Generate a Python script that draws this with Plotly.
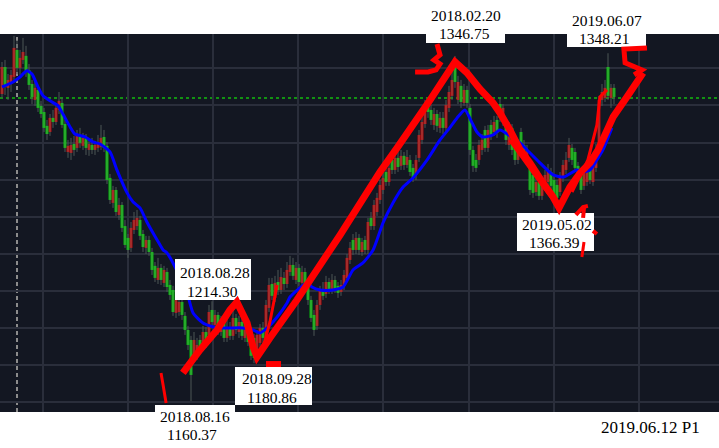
import plotly.graph_objects as go

# ---------------- data ----------------
opens = [1326.2,1340.8,1329.5,1331.6,1335.4,1350.0,1340.3,1344.6,1346.8,1339.2,
 1331.6,1323.0,1328.4,1319.8,1316.5,1309.0,1305.7,1313.3,1311.1,1317.6,
 1321.4,1310.0,1294.9,1294.4,1299.2,1297.1,1303.6,1298.2,1302.5,1296.0,
 1298.7,1296.0,1297.1,1297.6,1303.0,1298.2,1280.9,1267.4,1274.4,1260.9,
 1266.3,1254.9,1248.5,1243.1,1252.8,1254.9,1258.2,1250.6,1243.1,1247.4,
 1240.9,1233.4,1225.8,1232.3,1224.2,1230.1,1223.1,1220.4,1208.0,1208.5,
 1213.9,1206.4,1198.8,1193.4,1184.2,1184.8,1193.4,1189.6,1197.7,1196.1,
 1209.6,1201.5,1206.9,1197.7,1203.1,1194.5,1200.4,1195.6,1205.3,1197.7,
 1203.1,1194.5,1201.0,1192.3,1194.5,1184.8,1191.8,1199.9,1193.4,1210.7,
 1223.6,1216.1,1224.7,1220.4,1226.9,1223.6,1230.1,1233.9,1225.8,1232.3,
 1224.2,1230.1,1222.6,1215.0,1206.9,1201.0,1212.3,1220.4,1218.2,1224.7,
 1220.4,1225.8,1222.6,1219.3,1222.6,1226.9,1236.6,1247.4,1242.0,1248.5,
 1240.9,1247.4,1242.0,1259.3,1254.9,1262.5,1269.0,1274.4,1284.1,1278.7,
 1290.6,1285.2,1291.7,1287.4,1292.8,1287.9,1290.6,1286.3,1282.5,1291.7,
 1301.4,1310.0,1320.8,1317.6,1309.5,1315.4,1307.9,1313.3,1307.9,1318.7,
 1325.2,1340.8,1323.0,1330.6,1321.4,1328.4,1318.7,1296.0,1290.6,1290.6,
 1296.0,1306.8,1297.1,1309.5,1305.7,1312.2,1320.8,1311.1,1311.1,1298.7,
 1307.9,1297.1,1290.6,1305.7,1298.7,1290.6,1286.3,1282.5,1273.3,1278.7,
 1271.2,1276.0,1278.7,1284.1,1279.8,1277.1,1273.3,1280.9,1285.2,1291.7,
 1297.1,1294.9,1287.4,1283.0,1276.6,1278.7,1285.2,1278.7,1286.3,1293.3,
 1323.0,1324.1,1340.8,1324.1,1329.5]

closes = [1340.8,1330.0,1333.8,1336.5,1351.1,1340.3,1345.7,1348.9,1338.7,1331.1,
 1324.6,1329.5,1318.7,1315.4,1307.9,1304.6,1313.3,1311.1,1318.7,1322.5,
 1309.5,1297.1,1298.2,1298.7,1296.0,1303.6,1299.8,1302.5,1297.1,1299.2,
 1296.0,1298.7,1300.3,1302.5,1297.1,1279.8,1269.0,1274.4,1262.5,1266.3,
 1253.9,1244.7,1242.0,1253.9,1258.2,1259.3,1249.6,1243.6,1247.4,1240.9,
 1231.2,1226.9,1232.3,1225.8,1231.2,1222.0,1217.7,1208.5,1215.0,1213.9,
 1206.9,1198.8,1190.7,1174.5,1193.4,1190.7,1189.1,1197.7,1190.7,1208.5,
 1203.1,1206.9,1198.8,1203.1,1194.5,1199.9,1195.6,1205.3,1198.8,1203.1,
 1195.6,1201.0,1192.3,1184.8,1183.7,1196.1,1199.9,1194.5,1212.3,1223.1,
 1217.2,1224.2,1220.4,1227.4,1223.6,1231.2,1233.9,1228.0,1232.3,1224.7,
 1230.1,1221.5,1215.0,1205.3,1198.8,1212.3,1220.4,1217.2,1224.7,1220.4,
 1225.8,1221.0,1218.8,1223.1,1228.5,1237.7,1243.1,1242.0,1248.5,1242.0,
 1246.3,1242.0,1257.1,1254.9,1266.3,1270.1,1277.1,1280.9,1278.7,1286.3,
 1285.2,1291.7,1286.8,1292.8,1287.9,1292.2,1284.1,1280.9,1290.6,1304.1,
 1311.1,1318.7,1316.5,1312.2,1315.4,1309.0,1313.3,1307.9,1320.3,1327.3,
 1333.8,1332.7,1332.7,1321.9,1328.4,1321.4,1296.0,1287.4,1286.3,1298.7,
 1301.4,1297.1,1306.8,1304.1,1311.1,1305.2,1313.3,1318.7,1301.4,1307.9,
 1296.0,1290.6,1296.0,1296.0,1293.3,1296.0,1274.4,1272.8,1278.7,1271.2,
 1277.1,1282.5,1285.2,1276.6,1271.2,1270.1,1282.0,1287.9,1290.6,1298.7,
 1290.6,1286.3,1282.0,1274.4,1284.1,1285.2,1279.8,1289.5,1296.0,1323.0,
 1327.3,1329.5,1325.2,1329.5,1324.6]

highs = [1343.5,1344.6,1337.0,1339.2,1357.6,1355.4,1350.0,1356.5,1352.2,1342.4,
 1333.8,1332.7,1330.6,1322.5,1318.7,1312.2,1315.4,1317.6,1320.8,1327.3,
 1324.1,1312.2,1301.4,1302.5,1303.6,1306.8,1307.9,1305.2,1304.6,1301.4,
 1302.5,1300.9,1304.1,1309.5,1306.8,1300.3,1283.0,1276.6,1276.0,1270.1,
 1267.9,1258.2,1250.6,1257.1,1262.5,1263.6,1260.4,1252.8,1249.6,1249.6,
 1243.1,1235.5,1237.7,1234.4,1233.4,1232.3,1225.8,1222.6,1217.2,1216.1,
 1216.1,1208.5,1201.0,1195.6,1197.7,1194.5,1196.1,1201.0,1200.4,1212.3,
 1214.3,1209.6,1208.5,1206.4,1205.3,1204.2,1203.1,1209.6,1207.4,1206.4,
 1205.3,1204.2,1203.1,1194.5,1196.6,1198.8,1202.0,1203.1,1215.0,1226.9,
 1226.9,1228.0,1231.2,1232.3,1230.1,1235.5,1238.8,1237.7,1235.5,1234.4,
 1233.4,1232.3,1224.7,1217.2,1209.6,1215.0,1222.6,1224.7,1228.0,1226.9,
 1229.0,1228.0,1224.7,1225.8,1231.2,1239.8,1246.3,1250.6,1251.7,1250.6,
 1248.5,1249.6,1259.3,1262.5,1269.0,1272.8,1279.8,1284.1,1287.4,1289.5,
 1293.8,1296.0,1294.9,1296.0,1294.9,1296.0,1293.3,1288.4,1293.3,1306.8,
 1314.4,1323.0,1324.1,1320.3,1318.7,1317.6,1316.5,1316.5,1323.0,1330.6,
 1338.1,1346.75,1336.0,1333.8,1331.6,1330.6,1320.8,1298.2,1293.8,1301.4,
 1304.6,1309.0,1309.5,1312.2,1314.4,1314.4,1324.1,1320.8,1313.3,1311.1,
 1310.0,1299.2,1298.2,1307.9,1301.4,1298.7,1288.4,1285.2,1280.9,1280.9,
 1279.8,1285.2,1288.4,1286.3,1282.0,1279.8,1284.1,1290.6,1294.9,1302.5,
 1299.2,1297.1,1289.5,1285.2,1286.3,1288.4,1287.4,1292.8,1299.2,1325.2,
 1331.6,1333.8,1348.21,1331.6,1331.6]

lows = [1324.1,1325.7,1323.0,1327.3,1332.7,1337.0,1336.5,1342.4,1335.4,1328.4,
 1320.8,1319.8,1316.5,1313.3,1305.7,1301.4,1303.6,1307.9,1309.5,1315.4,
 1307.9,1294.9,1291.7,1290.6,1292.8,1294.9,1297.1,1296.0,1293.3,1292.8,
 1293.8,1293.3,1294.9,1296.0,1294.9,1277.6,1266.8,1264.7,1260.4,1258.2,
 1251.7,1243.1,1237.7,1240.9,1250.6,1252.8,1247.4,1240.9,1239.8,1238.8,
 1228.5,1224.7,1223.6,1223.1,1222.0,1219.3,1215.0,1206.4,1205.3,1206.4,
 1204.2,1196.1,1188.0,1160.37,1181.5,1182.6,1186.9,1188.0,1189.1,1194.5,
 1201.0,1198.8,1196.1,1195.6,1192.3,1192.3,1193.4,1193.4,1196.6,1194.5,
 1193.4,1192.3,1190.2,1182.6,1180.86,1182.6,1189.1,1191.8,1191.2,1208.5,
 1215.0,1213.9,1217.7,1218.2,1220.4,1221.5,1228.0,1225.8,1223.6,1222.6,
 1221.5,1219.3,1212.3,1203.1,1195.6,1198.8,1209.6,1215.0,1216.1,1218.2,
 1218.2,1218.8,1216.1,1217.2,1220.4,1224.7,1234.4,1239.3,1239.8,1239.3,
 1238.8,1239.8,1239.8,1252.8,1252.8,1260.4,1266.8,1272.2,1276.6,1276.6,
 1283.0,1283.0,1284.1,1285.2,1285.2,1286.3,1282.0,1278.7,1279.8,1289.5,
 1299.2,1307.9,1313.3,1309.5,1306.8,1305.7,1305.2,1304.6,1305.7,1316.5,
 1323.0,1329.5,1320.8,1318.7,1319.8,1318.7,1293.3,1284.1,1284.1,1287.9,
 1293.3,1294.9,1294.9,1301.4,1303.6,1302.5,1311.1,1309.0,1298.7,1296.0,
 1293.3,1287.9,1288.4,1293.3,1290.6,1287.9,1271.7,1270.1,1271.2,1269.0,
 1269.0,1274.4,1276.6,1274.4,1269.0,1266.39,1271.2,1278.7,1283.0,1289.5,
 1287.9,1284.1,1279.8,1272.2,1274.4,1276.6,1277.6,1276.6,1284.1,1291.7,
 1319.8,1321.9,1323.0,1318.7,1320.8]

bars = list(range(len(closes)))

# blue moving-average line, read at these bar positions
ma_x = [0,3.7,6,8.3,10,12,13.7,16,18.7,20.3,22.7,24.3,27.7,30.3,32.7,36,38.3,41.7,43.7,46,
        48.3,51.7,53.7,55,57.7,61.7,63.7,67,71.7,76,80.3,83.7,86,88.7,91.7,95,96,101.7,103.3,106,
        110.3,113.7,117,120.3,123.7,127,130.3,133.7,137,141.7,146,148.7,151.7,154.3,156.7,158.3,160.3,163.7,166,169.3,
        172.7,175,179.3,183.7,187.3,191.7,193.7,196,198.3,200.3,201.7,203.3]
ma_y = [1330.0,1332.7,1335.4,1338.7,1337.0,1330.0,1325.2,1322.5,1319.8,1315.4,1308.4,1304.6,1303.0,1300.3,1299.2,1294.9,1285.2,1272.8,1267.9,1264.7,
        1257.1,1247.4,1242.0,1240.4,1232.8,1218.8,1208.0,1202.6,1199.9,1199.9,1199.9,1198.8,1197.2,1200.4,1205.8,1213.4,1216.6,1224.2,1222.0,1220.4,
        1220.4,1222.0,1231.2,1235.0,1242.0,1256.6,1267.4,1276.0,1280.9,1290.6,1301.4,1306.8,1313.3,1317.6,1310.6,1305.7,1303.0,1304.1,1306.8,1303.6,
        1299.8,1296.0,1289.0,1282.5,1281.4,1285.2,1284.1,1285.2,1290.6,1296.0,1301.4,1307.9]

level_price = 1324.0      # green dotted horizontal level
marker_bar = 5            # grey dashed vertical marker

# hand-drawn red strokes (bar position, price)
stroke_main_x = [60.3,66,71.7,76,78.3,81.7,83.7,85,89.3,98.3,112.7,126,131.7,142.7,151,
                 155,159.3,163.7,166,169.3,172.7,176,180.3,183.7,185.7,
                 189.3,192.7,196,198.7,203.7,208.3,213.7]
stroke_main_y = [1175.6,1188.0,1198.8,1209.6,1213.9,1202.6,1189.6,1184.2,1194.5,1215.0,1250.1,1284.1,1297.1,1323.0,1343.5,
                 1337.6,1328.9,1321.4,1316.0,1306.8,1296.0,1289.0,1278.2,1270.6,1264.7,
                 1276.0,1283.6,1289.0,1296.0,1313.8,1324.6,1337.6]
stroke_a_x = [86.7,89.3,91.7];            stroke_a_y = [1186.9,1203.1,1223.1]
stroke_b_x = [190,195.3,198.3,199.3,201.7]; stroke_b_y = [1273.3,1290.6,1309.5,1324.6,1328.4]
stroke_c_x = [169.3,177.7,184.7];         stroke_c_y = [1301.4,1282.5,1267.4]
stroke_d_x = [53,53.7,54.7];              stroke_d_y = [1175.6,1169.1,1159.4]
stroke_e_x = [145,146,144,146,144.7,142,137.7]
stroke_e_y = [1353.2,1347.3,1344.6,1342.4,1339.2,1338.1,1338.1]
stroke_f_x = [215,207.3,207.7,213.3,210.7]; stroke_f_y = [1351.1,1350.5,1343.0,1339.2,1336.5]
stroke_g_x = [88,93];                     stroke_g_y = [1180.4,1180.4]
stroke_h_x = [191.3,193.7,195.3];         stroke_h_y = [1260.9,1265.2,1265.8]
stroke_i_x = [194,193.7];                 stroke_i_y = [1264.7,1259.3]
stroke_j_x = [197,198.3];                 stroke_j_y = [1252.3,1250.6]
stroke_k_x = [194,193.3];                 stroke_k_y = [1246.3,1238.2]

label_dates = ["2018.02.20", "2019.06.07", "2019.05.02", "2018.08.28", "2018.09.28", "2018.08.16"]
label_values = ["1346.75", "1348.21", "1366.39", "1214.30", "1180.86", "1160.37"]
footer_text = "2019.06.12 P1"

# ---------------- figure ----------------
W, H = 719, 448
T, B = 34, 36
PH = H - T - B

def px(x):
    return x / W

def py(y):
    return (H - B - y) / PH

fig = go.Figure()

# wicks (grey) underneath bodies
wx, wy = [], []
for i, lo, hi in zip(bars, lows, highs):
    wx += [i, i, None]
    wy += [lo, hi, None]
fig.add_trace(go.Scatter(x=wx, y=wy, mode="lines",
                         line=dict(color="#4d5654", width=1), hoverinfo="skip"))

# candle bodies
up = [i for i in bars if closes[i] >= opens[i]]
dn = [i for i in bars if closes[i] < opens[i]]
fig.add_trace(go.Bar(x=up, base=[opens[i] for i in up],
                     y=[max(closes[i] - opens[i], 0.4) for i in up],
                     width=0.9, marker=dict(color="#ff0000", line=dict(width=0))))
fig.add_trace(go.Bar(x=dn, base=[closes[i] for i in dn],
                     y=[max(opens[i] - closes[i], 0.4) for i in dn],
                     width=0.9, marker=dict(color="#00ff00", line=dict(width=0))))

fig.add_trace(go.Scatter(x=ma_x, y=ma_y, mode="lines",
                         line=dict(color="#0000ff", width=3, shape="spline", smoothing=0.6)))

shapes = []
shapes.append(dict(type="line", xref="paper", x0=0, x1=1, yref="y", y0=level_price, y1=level_price,
                   line=dict(color="#129212", width=2, dash="dot"), layer="between"))
shapes.append(dict(type="line", xref="x", x0=marker_bar, x1=marker_bar, yref="paper", y0=0, y1=1,
                   line=dict(color="#8c8c8c", width=2, dash="4px,3px"), layer="between"))

boxes = [(426, 0, 505, 43), (567, 0, 646, 47), (517, 213, 594, 251),
         (175, 259, 251, 300), (235, 367, 312, 405), (155, 405, 235, 448)]
for (x0, y0, x1, y1) in boxes:
    shapes.append(dict(type="rect", xref="paper", yref="paper",
                       x0=px(x0), x1=px(x1), y0=py(y1), y1=py(y0),
                       fillcolor="white", line=dict(width=0), layer="above"))

strokes = [(stroke_main_x, stroke_main_y, 7), (stroke_a_x, stroke_a_y, 3),
           (stroke_b_x, stroke_b_y, 3), (stroke_c_x, stroke_c_y, 4),
           (stroke_d_x, stroke_d_y, 3), (stroke_e_x, stroke_e_y, 5),
           (stroke_f_x, stroke_f_y, 5), (stroke_g_x, stroke_g_y, 6),
           (stroke_h_x, stroke_h_y, 4), (stroke_i_x, stroke_i_y, 4),
           (stroke_j_x, stroke_j_y, 4), (stroke_k_x, stroke_k_y, 3)]
for xs, ys, w in strokes:
    path = "M " + " L ".join(f"{x},{y}" for x, y in zip(xs, ys))
    shapes.append(dict(type="path", xref="x", yref="y", path=path,
                       line=dict(color="#ff0000", width=w), layer="above"))

font = dict(family="Liberation Serif, Times New Roman, serif", size=15.5, color="#000000")
footer_font = dict(family="Liberation Serif, Times New Roman, serif", size=17, color="#000000")
line1 = [(429, 16), (570, 20), (520, 224), (178, 272), (240, 378), (158, 416)]
line2 = [(437, 33), (577, 38), (527, 242), (185, 291), (245, 397), (165, 434)]
annotations = []
for txt, (x, y) in zip(label_dates, line1):
    annotations.append(dict(text=txt, x=px(x), y=py(y), xref="paper", yref="paper",
                            xanchor="left", yanchor="middle", showarrow=False, font=font))
for txt, (x, y) in zip(label_values, line2):
    annotations.append(dict(text=txt, x=px(x), y=py(y), xref="paper", yref="paper",
                            xanchor="left", yanchor="middle", showarrow=False, font=font))
annotations.append(dict(text=footer_text, x=px(599), y=py(427), xref="paper", yref="paper",
                        xanchor="left", yanchor="middle", showarrow=False, font=footer_font))

fig.update_layout(
    width=W, height=H, margin=dict(l=0, r=0, t=T, b=B),
    paper_bgcolor="white", plot_bgcolor="#131722",
    showlegend=False, hovermode=False, barmode="overlay",
    xaxis=dict(range=[-0.667, 239.0], showticklabels=False, ticks="", showgrid=True,
               gridcolor="#2a2e3b", gridwidth=2, tick0=13.67, dtick=28.37,
               zeroline=False, showline=False),
    yaxis=dict(range=[1154.5, 1358.6], showticklabels=False, ticks="", showgrid=True,
               gridcolor="#2a2e3b", gridwidth=2, tick0=1160, dtick=20,
               zeroline=False, showline=False),
    shapes=shapes, annotations=annotations,
)

fig.write_html("out.html", config={"displayModeBar": False},
               post_script="document.body.style.margin='0';document.body.style.overflow='hidden';")
